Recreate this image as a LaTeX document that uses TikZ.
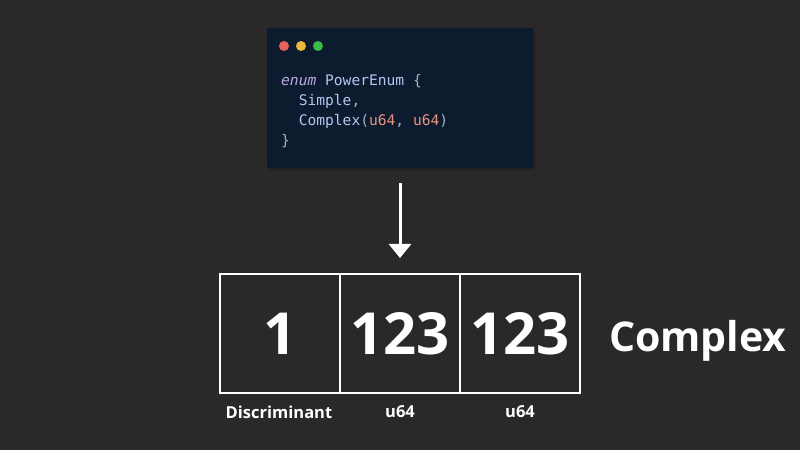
\documentclass[tikz,border=0pt]{standalone}
\usepackage{fontspec}
\setmainfont{Open Sans}
\newfontfamily\codefont{DejaVu Sans Mono}
\usetikzlibrary{arrows.meta}

\definecolor{bgdark}{HTML}{2A2829}
\definecolor{codebg}{HTML}{0C1B2D}
\definecolor{shadowcol}{HTML}{222022}
\definecolor{dotred}{HTML}{E8625B}
\definecolor{dotyellow}{HTML}{E8B93C}
\definecolor{dotgreen}{HTML}{3DBB4A}
\definecolor{kwcol}{HTML}{BDA8E6}
\definecolor{idcol}{HTML}{B2C6F0}
\definecolor{typecol}{HTML}{E8957F}
\definecolor{punctcol}{HTML}{A7B0C2}

\tikzset{
  codeline/.style={anchor=west, inner sep=0pt, font=\codefont\fontsize{14.6}{16}\selectfont, text=idcol},
  cell/.style={draw=white, line width=1.5pt, minimum width=120pt, minimum height=119pt, inner sep=0pt,
    font=\bfseries\fontsize{58}{60}\selectfont, text=white},
  celllabel/.style={font=\bfseries\fontsize{16.5}{18}\selectfont, text=white, inner sep=0pt}
}

\begin{document}
\begin{tikzpicture}[x=1pt, y=1pt]
        %background
        \fill[bgdark] (0,0) rectangle (800,450);
        \useasboundingbox (0,0) rectangle (800,450);

        %code window
        \fill[shadowcol, rounded corners=3pt] (268,280) rectangle (535,421);
        \fill[codebg, rounded corners=2pt] (267,282) rectangle (533,422);
        \fill[dotred] (284,404) circle (5);
        \fill[dotyellow] (301,404) circle (5);
        \fill[dotgreen] (318,404) circle (5);
        \node[codeline] (l1) at (281,368.5) {\textcolor{kwcol}{\itshape enum} PowerEnum \textcolor{punctcol}{\{}};
        \node[codeline] (l2) at (281,348.5) {\ \ Simple\textcolor{punctcol}{,}};
        \node[codeline] (l3) at (281,328.5) {\ \ Complex\textcolor{punctcol}{(}\textcolor{typecol}{u64}\textcolor{punctcol}{,} \textcolor{typecol}{u64}\textcolor{punctcol}{)}};
        \node[codeline] (l4) at (281,308.5) {\textcolor{punctcol}{\}}};

        %arrow
        \coordinate (top) at (400,267);
        \coordinate (tip) at (400,192);
        \draw[white, line width=3pt, -{Triangle[length=14pt, width=22pt]}] (top) -- (tip);

        %memory layout
        \node[cell] (disc) at (280,116.5) {1};
        \node[cell] (fst) at (400,116.5) {123};
        \node[cell] (snd) at (520,116.5) {123};
        \node[celllabel] at (279,38) (ldisc) {Discriminant};
        \node[celllabel] at (400,38) (lfst) {u64};
        \node[celllabel] at (520,38) (lsnd) {u64};

        \node[font=\bfseries\fontsize{41}{43}\selectfont, text=white, anchor=west, inner sep=0pt] (name) at (609,109) {Complex};
    \end{tikzpicture}
\end{document}
